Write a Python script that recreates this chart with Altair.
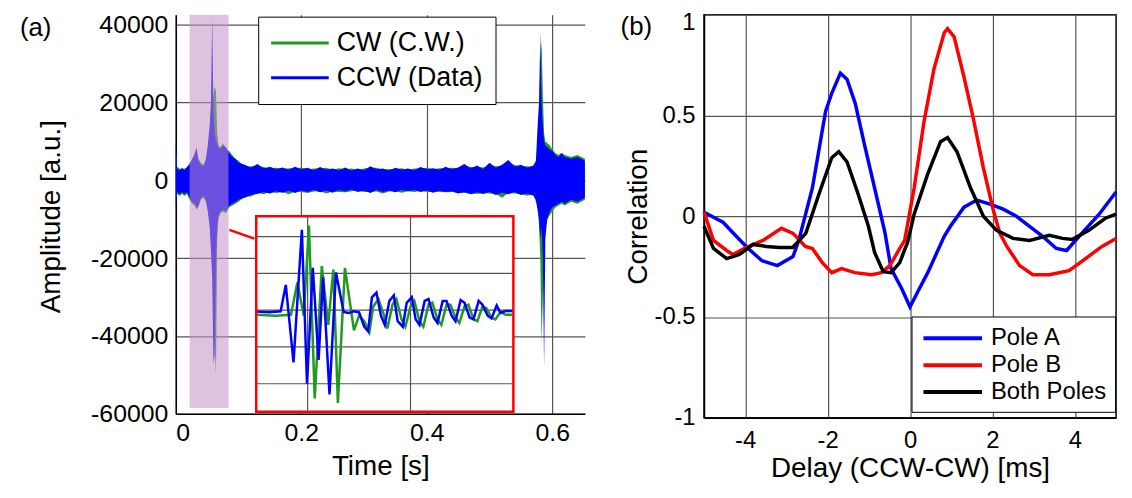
import altair as alt
import pandas as pd

FONT = "Liberation Sans"
GRID = "#555555"
GREEN = "#1e9b1e"
BLUE = "#0000ff"
RED = "#ff0000"

# ---------------- Panel (a): waveform envelopes ----------------
time_s = [0.000, 0.002, 0.006, 0.010, 0.014, 0.018, 0.022, 0.026, 0.030, 0.033,
          0.036, 0.040, 0.044, 0.048, 0.051, 0.054, 0.056, 0.058, 0.060, 0.062,
          0.064, 0.066, 0.068, 0.071, 0.075, 0.080, 0.085, 0.090, 0.095,
          0.10, 0.11, 0.12, 0.13, 0.14, 0.15, 0.16, 0.17, 0.18, 0.19,
          0.20, 0.21, 0.22, 0.23, 0.24, 0.25, 0.26, 0.27, 0.28, 0.29,
          0.30, 0.31, 0.32, 0.33, 0.34, 0.35, 0.36, 0.37, 0.38, 0.39,
          0.40, 0.41, 0.42, 0.43, 0.44, 0.45, 0.46, 0.47, 0.48, 0.49,
          0.50, 0.51, 0.52, 0.53, 0.54, 0.55, 0.56, 0.57,
          0.574, 0.577, 0.579, 0.581, 0.583, 0.585, 0.587, 0.589, 0.592, 0.596,
          0.600, 0.605, 0.610, 0.615, 0.620, 0.630, 0.640, 0.652]

ccw_hi = [10000, 3000, 2500, 3200, 2600, 3500, 4000, 5500, 6500, 8500,
          5000, 4000, 3500, 5500, 9000, 14000, 20000, 42000, 18000, 12000,
          10000, 9500, 8500, 8000, 9000, 8500, 7000, 6000, 5500,
          4500, 4000, 3200, 4200, 3000, 3500, 2800, 3300, 2700, 3500,
          2800, 3200, 2600, 3400, 2700, 3000, 2600, 3300, 2500, 3000,
          2600, 3600, 2800, 3000, 2500, 3200, 2700, 3000, 2600, 3400,
          2800, 3100, 2700, 3500, 2800, 3300, 4200, 3000, 3800, 2900,
          4500, 3200, 4000, 5200, 3500, 4000, 3200, 3800,
          5000, 15000, 20000, 38000, 20000, 14000, 10000, 9000, 8500, 8000,
          7500, 6500, 6000, 7000, 6000, 5500, 6000, 5000]
ccw_lo = [-7000, -3000, -3500, -3000, -3500, -3000, -4500, -5500, -6000, -7000,
          -6500, -4500, -4000, -5000, -8000, -12000, -18000, -25000, -47000, -45000,
          -20000, -12000, -9000, -8000, -7500, -8000, -6500, -6000, -5500,
          -5000, -4500, -3800, -3500, -3000, -3400, -2800, -3200, -2700, -3300,
          -2600, -3000, -2500, -3100, -2600, -3200, -2500, -2900, -2400, -3000,
          -2600, -3300, -2500, -3000, -2600, -3100, -2500, -2800, -2500, -3000,
          -2600, -3200, -2700, -3000, -2800, -3400, -3000, -3600, -3100, -3500,
          -3000, -3800, -3200, -3600, -3000, -3800, -3400, -4000,
          -5000, -8000, -10000, -15000, -12000, -20000, -48000, -15000, -10000, -8000,
          -7000, -6500, -6000, -5500, -6000, -5000, -5500, -4500]
cw_hi = [8000, 3500, 3000, 2800, 3000, 3200, 4500, 5000, 7000, 8000,
         5500, 4500, 4000, 5000, 8000, 12000, 15000, 20000, 22000, 24000,
         23000, 12000, 9000, 8500, 9500, 8000, 7500, 6500, 5500,
         5000, 3500, 3600, 3800, 3400, 3000, 3200, 2900, 3100, 3000,
         3300, 2800, 3000, 3000, 3200, 2700, 3100, 2800, 3000, 2700,
         3000, 3200, 3200, 2700, 2900, 2900, 3100, 2700, 3000, 3000,
         3200, 2800, 3100, 3000, 3200, 3000, 3800, 3400, 3400, 3300,
         4000, 3600, 3600, 4600, 3900, 3600, 3600, 3400,
         4500, 10000, 16000, 30000, 36000, 22000, 12000, 10000, 9500, 9000,
         8000, 7000, 6500, 7000, 6500, 6000, 6500, 5500]
cw_lo = [-5000, -3500, -4000, -3500, -4000, -3500, -5000, -6000, -6500, -7500,
         -7000, -5000, -4500, -5500, -7500, -10000, -15000, -20000, -30000, -42000,
         -50000, -15000, -10000, -8500, -8000, -8500, -7000, -6500, -6000,
         -5500, -4200, -4200, -3200, -3600, -3000, -3300, -3000, -3600, -2900,
         -3000, -3300, -2900, -2800, -3400, -2900, -3000, -3100, -2800, -2700,
         -3000, -3000, -2900, -3400, -2900, -2800, -3200, -2800, -3000, -2700,
         -3000, -2900, -3000, -3100, -3000, -3200, -3300, -3400, -3500, -3300,
         -3400, -3500, -4500, -3300, -3400, -3500, -4000, -3600,
         -5500, -7000, -12000, -20000, -42000, -30000, -15000, -12000, -10000, -9000,
         -8000, -7000, -6500, -6000, -6500, -5500, -6000, -5000]

# highlighted window and connector (data units of panel a)
band_t = [0.022, 0.084]
band_v = [-58500, 42550]
link_t = [0.0855, 0.125]
link_v = [-12750, -15000]

# ---------------- Inset (zoom of burst), time in ms ----------------
inset_ccw_t = [54.0, 55.0, 55.9, 56.3, 56.9, 57.55, 57.95, 58.4, 58.85, 59.2,
               59.7, 60.2, 60.8, 61.2, 61.6, 62.0, 62.4, 62.7, 63.0, 63.35,
               63.7, 64.0, 64.35, 64.7, 65.0, 65.4, 65.7, 66.1, 66.4, 66.7,
               67.1, 67.4, 67.8, 68.1, 68.5, 68.8, 69.2, 69.5, 69.9, 70.2,
               70.6, 70.9, 71.3, 71.6, 72.0, 72.3, 72.7, 73.0, 73.4, 74.0]
inset_ccw_v = [-800, -1200, -600, 13700, -28400, 43700, -40000, 23000, -27000, 17900,
               -45800, 20500, -1000, -1500, -600, -1200, -9000, -11500, 7000, 9500,
               -3000, -8000, 5000, 8000, -6000, -9000, 4000, 7000, -5000, -8000,
               5000, 6000, -4000, -7000, 5000, 5000, -3000, -6000, 5500, 4000,
               -4000, -5000, 5000, 3000, -3000, -4500, 2500, -1500, -500, -500]
inset_cw_t = [54.0, 55.5, 56.7, 57.2, 57.7, 58.1, 58.55, 59.1, 59.6, 60.0,
              60.35, 60.9, 61.6, 62.0, 62.4, 62.8, 63.1, 63.5, 63.9, 64.2,
              64.6, 64.9, 65.3, 65.6, 66.0, 66.3, 66.7, 67.0, 67.4, 67.7,
              68.1, 68.4, 68.8, 69.1, 69.5, 69.8, 70.2, 70.5, 70.9, 71.2,
              71.6, 71.9, 72.3, 72.6, 73.0, 73.4, 74.0]
inset_cw_v = [-2500, -3000, -2500, 15000, -3000, 46000, -48000, 24000, -8000, 22000,
              -50500, 23000, -11000, -3000, -6000, -12000, 2000, 6000, -2000, -10000,
              3000, 6000, -5000, -9000, 2000, 5000, -6000, -9000, 3000, 4000,
              -5000, -8000, 3000, 3000, -4000, -7000, 2000, 3000, -5000, -6000,
              2000, 1000, -4000, -5000, -1000, -2500, -2500]
inset_t_dom = [54, 74]
inset_v_dom = [-55260, 51050]
inset_grid_t = [58, 66]
inset_grid_v = [-40000, -20000, 0, 20000, 40000]

# ---------------- Panel (b): correlation curves ----------------
poleA_x = [-5.0, -4.54, -3.98, -3.6, -3.22, -2.84, -2.7, -2.37, -2.05, -1.9,
           -1.69, -1.53, -1.33, -1.1, -0.86, -0.61, -0.46, -0.2, 0.0, 0.2,
           0.43, 0.83, 0.98, 1.31, 1.62, 1.94, 2.26, 2.58, 2.9, 3.22,
           3.55, 3.8, 4.19, 4.59, 5.0]
poleA_y = [0.02, -0.03, -0.15, -0.22, -0.245, -0.2, -0.12, 0.14, 0.52, 0.61,
           0.71, 0.68, 0.56, 0.35, 0.14, -0.08, -0.26, -0.36, -0.45, -0.37,
           -0.28, -0.1, -0.05, 0.045, 0.08, 0.06, 0.035, 0.0, -0.05, -0.1,
           -0.16, -0.17, -0.08, 0.01, 0.12]
poleB_x = [-5.0, -4.77, -4.45, -4.3, -3.98, -3.57, -3.12, -2.84, -2.54, -2.37,
           -2.13, -1.9, -1.66, -1.34, -0.93, -0.7, -0.49, -0.25, -0.13, 0.1,
           0.34, 0.58, 0.83, 0.91, 1.07, 1.31, 1.54, 1.78, 2.02, 2.18,
           2.35, 2.66, 2.98, 3.38, 3.86, 4.26, 4.66, 5.0]
poleB_y = [0.02, -0.12, -0.17, -0.19, -0.155, -0.12, -0.06, -0.085, -0.15, -0.16,
           -0.23, -0.28, -0.26, -0.28, -0.29, -0.28, -0.245, -0.16, -0.12, 0.14,
           0.47, 0.73, 0.91, 0.93, 0.89, 0.69, 0.48, 0.24, 0.03, -0.085,
           -0.15, -0.245, -0.29, -0.29, -0.27, -0.21, -0.15, -0.11]
both_x = [-5.0, -4.77, -4.45, -4.14, -3.81, -3.49, -3.17, -2.85, -2.53, -2.21,
          -1.9, -1.73, -1.53, -1.26, -1.01, -0.86, -0.65, -0.46, -0.25, -0.06,
          0.1, 0.43, 0.74, 0.91, 1.14, 1.47, 1.78, 2.1, 2.5, 2.9,
          3.38, 3.7, 3.94, 4.34, 4.74, 5.0]
both_y = [-0.05, -0.16, -0.21, -0.19, -0.14, -0.15, -0.155, -0.155, -0.085, 0.11,
          0.29, 0.32, 0.27, 0.11, -0.05, -0.18, -0.275, -0.28, -0.23, -0.13,
          0.01, 0.21, 0.37, 0.39, 0.32, 0.14, 0.0, -0.07, -0.11, -0.12,
          -0.095, -0.11, -0.115, -0.07, -0.01, 0.01]

series_a = ["CW (C.W.)", "CCW (Data)"]
series_b = ["Pole A", "Pole B", "Both Poles"]

# ---------------- tables ----------------
wave = pd.DataFrame({"t": time_s, "ccw_hi": ccw_hi, "ccw_lo": ccw_lo,
                     "cw_hi": cw_hi, "cw_lo": cw_lo})
band = pd.DataFrame({"t0": [band_t[0]], "t1": [band_t[1]],
                     "v0": [band_v[0]], "v1": [band_v[1]]})
link = pd.DataFrame({"t0": [link_t[0]], "t1": [link_t[1]],
                     "v0": [link_v[0]], "v1": [link_v[1]]})
one = pd.DataFrame({"k": [0]})
inset_lines = pd.concat([
    pd.DataFrame({"t": inset_cw_t, "v": inset_cw_v, "series": series_a[0]}),
    pd.DataFrame({"t": inset_ccw_t, "v": inset_ccw_v, "series": series_a[1]}),
], ignore_index=True)
inset_box = pd.DataFrame({"t0": [inset_t_dom[0]], "t1": [inset_t_dom[1]],
                          "v0": [inset_v_dom[0]], "v1": [inset_v_dom[1]]})
inset_vgrid = pd.DataFrame({"t": inset_grid_t, "v0": inset_v_dom[0], "v1": inset_v_dom[1]})
inset_hgrid = pd.DataFrame({"v": inset_grid_v, "t0": inset_t_dom[0], "t1": inset_t_dom[1]})
corr = pd.concat([
    pd.DataFrame({"d": poleA_x, "c": poleA_y, "series": series_b[0]}),
    pd.DataFrame({"d": poleB_x, "c": poleB_y, "series": series_b[1]}),
    pd.DataFrame({"d": both_x, "c": both_y, "series": series_b[2]}),
], ignore_index=True)

# ---------------- Panel (a) ----------------
WA, HA = 412, 402
xa = alt.Scale(domain=[0, 0.652], nice=False, zero=False)
ya = alt.Scale(domain=[-60000, 42550], nice=False, zero=False)
ax_xa = alt.Axis(values=[0, 0.2, 0.4, 0.6], labelExpr="'' + datum.value",
                 title="Time [s]", grid=True, gridColor=GRID, gridWidth=1.2,
                 ticks=False, tickSize=0, labelPadding=19, labelBaseline="middle",
                 labelFontSize=25, titleFontSize=28, titleBaseline="alphabetic",
                 titleY=61, domainColor="black", domainWidth=1.5)
ax_ya = alt.Axis(values=[-60000, -40000, -20000, 0, 20000, 40000],
                 labelExpr="'' + datum.value", title="Amplitude [a.u.]",
                 grid=True, gridColor=GRID, gridWidth=1.2, ticks=False, tickSize=0,
                 labelPadding=8, labelFontSize=25, titleFontSize=28,
                 titleAngle=270, titleBaseline="alphabetic", titleAlign="center",
                 titleX=-117, titleY=203, domainColor="black", domainWidth=1.5)

base_a = alt.Chart(wave)
cw_area = base_a.mark_area(color=GREEN, opacity=1).encode(
    x=alt.X("t:Q", scale=xa, axis=ax_xa),
    y=alt.Y("cw_lo:Q", scale=ya, axis=ax_ya), y2="cw_hi:Q")
ccw_area = base_a.mark_area(color=BLUE, opacity=1).encode(
    x=alt.X("t:Q", scale=xa, axis=ax_xa),
    y=alt.Y("ccw_lo:Q", scale=ya, axis=ax_ya), y2="ccw_hi:Q")
band_rect = alt.Chart(band).mark_rect(color="#c48fc4", opacity=0.55).encode(
    x=alt.X("t0:Q", scale=xa, axis=ax_xa), x2="t1:Q",
    y=alt.Y("v0:Q", scale=ya, axis=ax_ya), y2="v1:Q")
link_rule = alt.Chart(link).mark_rule(color=RED, strokeWidth=2.5).encode(
    x=alt.X("t0:Q", scale=xa, axis=ax_xa), x2="t1:Q",
    y=alt.Y("v0:Q", scale=ya, axis=ax_ya), y2="v1:Q")
label_a = alt.Chart(one).mark_text(text="(a)", align="left", baseline="middle",
                                   fontSize=26, font=FONT, color="black").encode(
    x=alt.value(-157), y=alt.value(13))
spacer_a = alt.Chart(one).mark_rule(opacity=0, strokeWidth=0.01).encode(
    x=alt.value(0), y=alt.value(-20), y2=alt.value(0))

main_a = alt.layer(cw_area, ccw_area, band_rect, link_rule, label_a, spacer_a)

xi = alt.Scale(domain=inset_t_dom, range=[81, 340], nice=False, zero=False)
yi = alt.Scale(domain=inset_v_dom, range=[400, 203], nice=False, zero=False)
inset_bg = alt.Chart(inset_box).mark_rect(fill="white", strokeWidth=0).encode(
    x=alt.X("t0:Q", scale=xi, axis=None), x2="t1:Q",
    y=alt.Y("v0:Q", scale=yi, axis=None), y2="v1:Q")
inset_vg = alt.Chart(inset_vgrid).mark_rule(color=GRID, strokeWidth=1.2).encode(
    x=alt.X("t:Q", scale=xi, axis=None),
    y=alt.Y("v0:Q", scale=yi, axis=None), y2="v1:Q")
inset_hg = alt.Chart(inset_hgrid).mark_rule(color=GRID, strokeWidth=1.2).encode(
    x=alt.X("t0:Q", scale=xi, axis=None), x2="t1:Q",
    y=alt.Y("v:Q", scale=yi, axis=None))
inset_ln = alt.Chart(inset_lines).mark_line(strokeWidth=2.5).encode(
    x=alt.X("t:Q", scale=xi, axis=None),
    y=alt.Y("v:Q", scale=yi, axis=None),
    color=alt.Color("series:N", sort=series_a,
                    scale=alt.Scale(domain=series_a, range=[GREEN, BLUE]),
                    legend=alt.Legend(title=None, orient="none", legendX=83, legendY=2,
                                      symbolType="M-2.417,0H2.417", symbolSize=576,
                                      symbolStrokeWidth=3, labelFontSize=27,
                                      labelFont=FONT, labelColor="black",
                                      strokeColor="black", fillColor="white",
                                      padding=13, rowPadding=7, symbolOffset=15.5,
                                      labelOffset=23.5)))
inset_frame = alt.Chart(inset_box).mark_rect(fill="transparent", stroke=RED,
                                             strokeWidth=2.5).encode(
    x=alt.X("t0:Q", scale=xi, axis=None), x2="t1:Q",
    y=alt.Y("v0:Q", scale=yi, axis=None), y2="v1:Q")
inset = alt.layer(inset_bg, inset_vg, inset_hg, inset_ln, inset_frame)

panel_a = alt.layer(main_a, inset).resolve_scale(
    x="independent", y="independent").properties(width=WA, height=HA)

# ---------------- Panel (b) ----------------
WB, HB = 415, 406
xb = alt.Scale(domain=[-5, 5], nice=False, zero=False)
yb = alt.Scale(domain=[-1, 1], nice=False, zero=False)
ax_xb = alt.Axis(values=[-4, -2, 0, 2, 4], labelExpr="'' + datum.value",
                 title="Delay (CCW-CW) [ms]", grid=True, gridColor=GRID, gridWidth=1.2,
                 ticks=False, tickSize=0, labelPadding=23, labelBaseline="middle",
                 labelFontSize=24, titleFontSize=28, titleBaseline="alphabetic",
                 titleY=59, domainColor="black", domainWidth=1.5)
ax_yb = alt.Axis(values=[-1, -0.5, 0, 0.5, 1], labelExpr="'' + datum.value",
                 title="Correlation", grid=True, gridColor=GRID, gridWidth=1.2,
                 ticks=False, tickSize=0, labelPadding=9, labelFontSize=24,
                 labelOffset={"condition": {"test": "datum.value == 1", "value": 8},
                              "value": 0},
                 titleFontSize=28, titleAngle=270, titleBaseline="alphabetic",
                 titleAlign="center", titleX=-58, titleY=203,
                 domainColor="black", domainWidth=1.5)

corr_lines = alt.Chart(corr).mark_line(strokeWidth=3.5).encode(
    x=alt.X("d:Q", scale=xb, axis=ax_xb),
    y=alt.Y("c:Q", scale=yb, axis=ax_yb),
    color=alt.Color("series:N", sort=series_b,
                    scale=alt.Scale(domain=series_b, range=[BLUE, RED, "#000000"]),
                    legend=alt.Legend(title=None, orient="none", legendX=209, legendY=304,
                                      symbolType="M-2.458,0H2.458", symbolSize=576,
                                      symbolStrokeWidth=4, labelFontSize=24,
                                      labelFont=FONT, labelColor="black",
                                      strokeColor="black", fillColor="white",
                                      padding=8, rowPadding=1, symbolOffset=19.5,
                                      labelOffset=24.5)))
label_b = alt.Chart(one).mark_text(text="(b)", align="left", baseline="middle",
                                   fontSize=26, font=FONT, color="black").encode(
    x=alt.value(-84), y=alt.value(12.5))

panel_b = alt.layer(corr_lines, label_b).properties(
    width=WB, height=HB,
    view=alt.ViewBackground(stroke="black", strokeWidth=1.5))

chart = alt.hconcat(panel_a, panel_b, spacing=34).resolve_scale(
    color="independent").resolve_legend(color="independent").properties(
    padding={"left": 11, "top": -16, "right": 0, "bottom": 0}
).configure_view(stroke="transparent").configure_axis(
    labelFont=FONT, titleFont=FONT, labelColor="black", titleColor="black",
    titleFontWeight="normal"
).configure_text(font=FONT)

chart.save("out.html", embed_options={"renderer": "svg", "actions": False})
